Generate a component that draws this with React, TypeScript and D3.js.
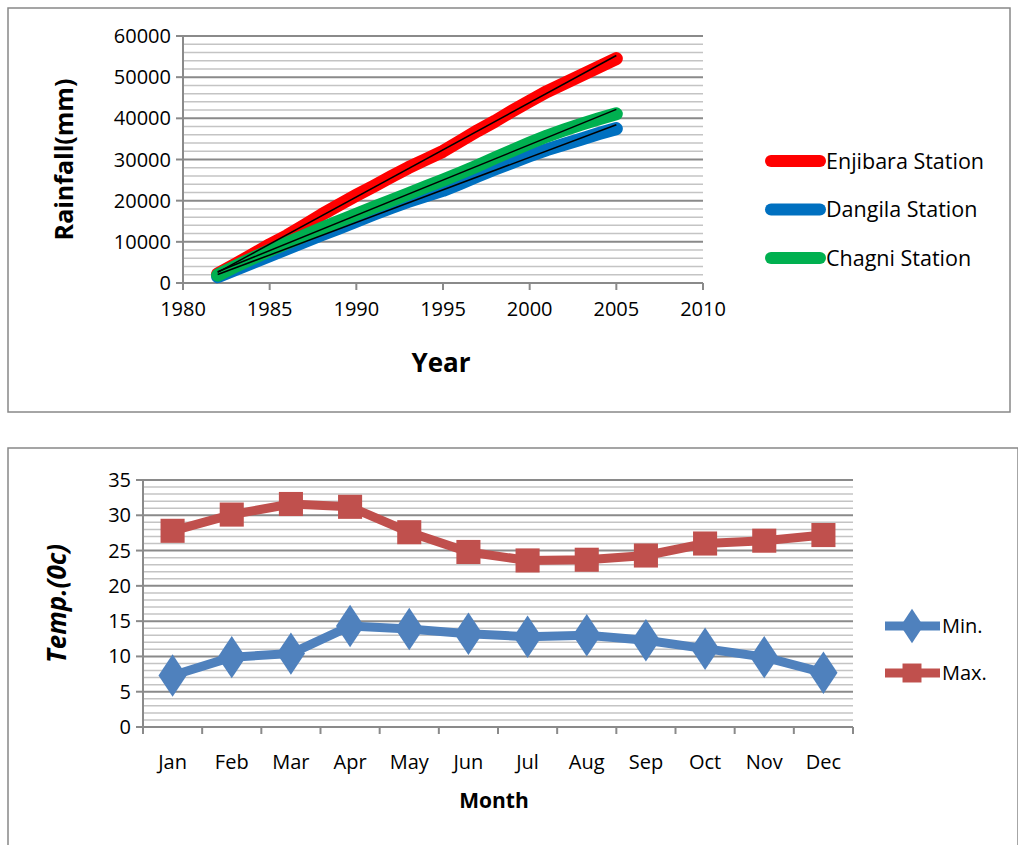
import React from 'react';
import * as d3 from 'd3';

const years = d3.range(1982, 2006);
const enjibara = [2200, 4500, 6900, 9300, 11500, 14000, 16600, 19000, 21300, 23500, 25800, 28000, 30000, 32000, 34500, 37000, 39300, 41800, 44200, 46500, 48500, 50500, 52500, 54500];
const dangila = [1500, 3200, 4900, 6600, 8300, 10000, 11700, 13300, 15000, 16700, 18300, 19800, 21200, 22500, 24200, 26000, 27700, 29300, 30900, 32400, 33700, 35000, 36300, 37500];
const chagni = [1900, 4000, 6000, 7900, 9700, 11500, 13300, 15000, 16700, 18400, 20000, 21700, 23400, 25000, 26700, 28500, 30400, 32200, 34000, 35700, 37200, 38600, 39900, 41100];
const stations = [
  { name: 'Enjibara Station', values: enjibara, color: '#FF0000' },
  { name: 'Dangila Station', values: dangila, color: '#0070C0' },
  { name: 'Chagni Station', values: chagni, color: '#00B050' },
];

const months = ['Jan', 'Feb', 'Mar', 'Apr', 'May', 'Jun', 'Jul', 'Aug', 'Sep', 'Oct', 'Nov', 'Dec'];
const minTemp = [7.3, 9.9, 10.4, 14.3, 13.9, 13.2, 12.8, 13.0, 12.3, 11.1, 9.9, 7.7];
const maxTemp = [27.8, 30.1, 31.6, 31.2, 27.6, 24.8, 23.6, 23.7, 24.3, 26.0, 26.4, 27.2];

const font = '"Open Sans", "Liberation Sans", sans-serif';

// least squares trend line
function fit(xs: number[], ys: number[]) {
  const mx = d3.mean(xs)!, my = d3.mean(ys)!;
  const b = d3.sum(xs, (x, i) => (x - mx) * (ys[i] - my)) / d3.sum(xs, x => (x - mx) ** 2);
  return (x: number) => my + b * (x - mx);
}

function Rainfall() {
  const x = d3.scaleLinear().domain([1980, 2010]).range([183, 703]);
  const y = d3.scaleLinear().domain([0, 60000]).range([283, 36]);
  const line = d3.line<number>().x((_, i) => x(years[i])).y(d => y(d));
  return (
    <g fontFamily={font}>
      <rect x={8} y={8} width={1002} height={404} fill="white" stroke="#888" strokeWidth={1.5} />
      {d3.range(2000, 60001, 2000).map(v => (
        <line key={v} x1={x(1980)} x2={x(2010)} y1={y(v)} y2={y(v)} stroke={v % 10000 ? '#c4c4c4' : '#8a8a8a'} strokeWidth={v % 10000 ? 1.5 : 2} />
      ))}
      <line x1={x(1980)} x2={x(1980)} y1={y(0)} y2={y(60000)} stroke="#8a8a8a" strokeWidth={2} />
      <line x1={x(1980)} x2={x(2010)} y1={y(0)} y2={y(0)} stroke="#8a8a8a" strokeWidth={2} />
      {d3.range(0, 60001, 10000).map(v => (
        <g key={v}>
          <line x1={x(1980) - 7} x2={x(1980)} y1={y(v)} y2={y(v)} stroke="#8a8a8a" strokeWidth={2} />
          <text x={x(1980) - 12} y={y(v)} dy="0.35em" textAnchor="end" fontSize={20}>{v}</text>
        </g>
      ))}
      {d3.range(1980, 2011, 5).map(v => (
        <g key={v}>
          <line x1={x(v)} x2={x(v)} y1={y(0)} y2={y(0) + 7} stroke="#8a8a8a" strokeWidth={2} />
          <text x={x(v)} y={y(0) + 33} textAnchor="middle" fontSize={20}>{v}</text>
        </g>
      ))}
      {stations.map(s => (
        <path key={s.name} d={line(s.values)!} fill="none" stroke={s.color} strokeWidth={13} strokeLinecap="round" strokeLinejoin="round" />
      ))}
      {stations.map(s => {
        const f = fit(years, s.values);
        return <line key={s.name} x1={x(1982)} x2={x(2005)} y1={y(f(1982))} y2={y(f(2005))} stroke="black" strokeWidth={1.5} />;
      })}
      <text transform={`translate(73,${y(30000)}) rotate(-90)`} textAnchor="middle" fontSize={25} fontWeight="bold">Rainfall(mm)</text>
      <text x={441} y={372} textAnchor="middle" fontSize={26} fontWeight="bold">Year</text>
      {stations.map((s, i) => (
        <g key={s.name} transform={`translate(0,${161 + i * 48.5})`}>
          <line x1={771} x2={820} stroke={s.color} strokeWidth={12} strokeLinecap="round" />
          <text x={826} dy="0.35em" fontSize={21.5}>{s.name}</text>
        </g>
      ))}
    </g>
  );
}

function Temperature() {
  const x = d3.scaleBand().domain(months).range([143, 853]);
  const y = d3.scaleLinear().domain([0, 35]).range([727, 480]);
  const cx = (i: number) => x(months[i])! + x.bandwidth() / 2;
  const line = d3.line<number>().x((_, i) => cx(i)).y(d => y(d));
  const diamond = d3.symbol(d3.symbolDiamond, 520)()!;
  const square = d3.symbol(d3.symbolSquare, 580)()!;
  return (
    <g fontFamily={font}>
      <rect x={8} y={448} width={1010} height={400} fill="white" stroke="#888" strokeWidth={1.5} />
      {d3.range(1, 36).map(v => (
        <line key={v} x1={143} x2={853} y1={y(v)} y2={y(v)} stroke={v % 5 ? '#c4c4c4' : '#8a8a8a'} strokeWidth={v % 5 ? 1.5 : 2} />
      ))}
      <line x1={143} x2={143} y1={y(0)} y2={y(35)} stroke="#8a8a8a" strokeWidth={2} />
      <line x1={143} x2={853} y1={y(0)} y2={y(0)} stroke="#8a8a8a" strokeWidth={2} />
      {d3.range(0, 36, 5).map(v => (
        <g key={v}>
          <line x1={136} x2={143} y1={y(v)} y2={y(v)} stroke="#8a8a8a" strokeWidth={2} />
          <text x={131} y={y(v)} dy="0.35em" textAnchor="end" fontSize={20}>{v}</text>
        </g>
      ))}
      {months.map((m, i) => (
        <g key={m}>
          <line x1={x(m)!} x2={x(m)!} y1={y(0)} y2={y(0) + 7} stroke="#8a8a8a" strokeWidth={2} />
          <text x={cx(i)} y={769} textAnchor="middle" fontSize={20}>{m}</text>
        </g>
      ))}
      <line x1={853} x2={853} y1={y(0)} y2={y(0) + 7} stroke="#8a8a8a" strokeWidth={2} />
      <path d={line(minTemp)!} fill="none" stroke="#4F81BD" strokeWidth={9} strokeLinejoin="round" />
      <path d={line(maxTemp)!} fill="none" stroke="#C0504D" strokeWidth={9} strokeLinejoin="round" />
      {minTemp.map((v, i) => <path key={i} d={diamond} transform={`translate(${cx(i)},${y(v)}) scale(1.15,1)`} fill="#4F81BD" />)}
      {maxTemp.map((v, i) => <path key={i} d={square} transform={`translate(${cx(i)},${y(v)})`} fill="#C0504D" />)}
      <text transform={`translate(66,${y(17.5)}) rotate(-90)`} textAnchor="middle" fontSize={26} fontWeight="bold" fontStyle="italic">Temp.(0c)</text>
      <text x={494} y={808} textAnchor="middle" fontSize={21} fontWeight="bold">Month</text>
      <g transform="translate(0,626)">
        <line x1={885} x2={940} stroke="#4F81BD" strokeWidth={9} />
        <path d={d3.symbol(d3.symbolDiamond, 340)()!} transform="translate(912,0) scale(1.15,1)" fill="#4F81BD" />
        <text x={942} dy="0.35em" fontSize={20}>Min.</text>
      </g>
      <g transform="translate(0,673)">
        <line x1={885} x2={940} stroke="#C0504D" strokeWidth={9} />
        <path d={d3.symbol(d3.symbolSquare, 360)()!} transform="translate(912,0)" fill="#C0504D" />
        <text x={942} dy="0.35em" fontSize={20}>Max.</text>
      </g>
    </g>
  );
}

export default function App() {
  return (
    <svg width={1018} height={845} style={{ position: 'absolute', left: 0, top: 0 }}>
      <rect width={1018} height={845} fill="white" />
      <Rainfall />
      <Temperature />
    </svg>
  );
}
